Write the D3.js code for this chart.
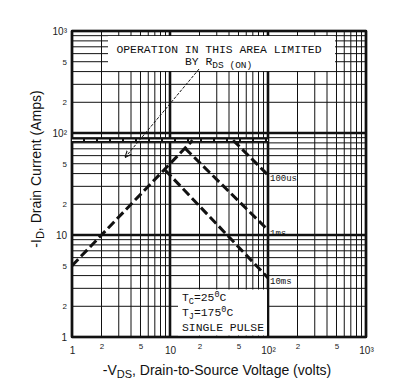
<!DOCTYPE html>
<html lang="en">
<head>
<meta charset="UTF-8">
<title>Safe Operating Area</title>
<script src="https://cdn.jsdelivr.net/npm/d3@7"></script>
<style>
    body { margin: 0; background: #fff; }
    svg { display: block; }
    .mono { font-family: "Liberation Mono", "DejaVu Sans Mono", monospace; fill: #111; }
    .sans { font-family: "Liberation Sans", Arial, sans-serif; fill: #111; }
</style>
</head>
<body>
<svg id="chart" width="415" height="391"></svg>
<script>
    // tick values and their printed labels (same on both axes)
    const tickValues = [1, 2, 5, 10, 20, 50, 100, 200, 500, 1000];
    const tickLabels = ["1", "2", "5", "10", "2", "5", "10\u00b2", "2", "5", "10\u00b3"];

    // boundary lines, volts / amps
    const rdsLimitV = [1, 17];
    const rdsLimitI = [5, 85];
    const currentLimitV = [1, 100];
    const currentLimitI = [85, 85];
    const pulse100usV = [44, 100];
    const pulse100usI = [85, 38.7];
    const pulse1msV = [14.2, 100];
    const pulse1msI = [71, 11.2];
    const pulse10msV = [8.9, 100];
    const pulse10msI = [43.4, 3.8];
    const pulseLabels = ["100us", "1ms", "10ms"];

    // arrow from the note to the Rds line
    const arrowV = [19.8, 3.5];
    const arrowI = [424, 58];

    const svg = d3.select("#chart");
    const x = d3.scaleLog().domain([1, 1000]).range([72, 366]);
    const y = d3.scaleLog().domain([1, 1000]).range([337, 31]);

    // log grid
    let grid = [];
    [1, 10, 100].forEach(d => {
        for (let k = 1; k < 10; k++) grid.push(k * d);
    });
    grid.push(1000);

    const isDecade = v => Math.abs(Math.log10(v) - Math.round(Math.log10(v))) < 1e-9;

    svg.append("g").selectAll("line").data(grid).enter().append("line")
        .attr("x1", d => x(d)).attr("x2", d => x(d))
        .attr("y1", y(1)).attr("y2", y(1000))
        .attr("stroke", "#111")
        .attr("stroke-width", d => isDecade(d) ? 2.6 : 1);

    svg.append("g").selectAll("line").data(grid).enter().append("line")
        .attr("y1", d => y(d)).attr("y2", d => y(d))
        .attr("x1", x(1)).attr("x2", x(1000))
        .attr("stroke", "#111")
        .attr("stroke-width", d => isDecade(d) ? 2.6 : 1);

    // white areas behind the notes
    svg.append("rect").attr("x", 108).attr("y", 36).attr("width", 227).attr("height", 35).attr("fill", "#fff");
    svg.append("rect").attr("x", 178).attr("y", 289.5).attr("width", 89).attr("height", 46).attr("fill", "#fff");

    // frame
    svg.append("rect")
        .attr("x", x(1)).attr("y", y(1000))
        .attr("width", x(1000) - x(1)).attr("height", y(1) - y(1000))
        .attr("fill", "none").attr("stroke", "#111").attr("stroke-width", 2.2);

    const line = d3.line().x(d => x(d[0])).y(d => y(d[1]));
    const pts = (vs, is) => vs.map((v, i) => [v, is[i]]);

    // current limit: heavy line with white dashes inside
    svg.append("path").datum(pts(currentLimitV, currentLimitI))
        .attr("d", line).attr("fill", "none")
        .attr("stroke", "#111").attr("stroke-width", 5);
    svg.append("path").datum(pts(currentLimitV, currentLimitI))
        .attr("d", line).attr("fill", "none")
        .attr("stroke", "#fff").attr("stroke-width", 1.6)
        .attr("stroke-dasharray", "11,2");

    const dashed = [
        pts(rdsLimitV, rdsLimitI),
        pts(pulse100usV, pulse100usI),
        pts(pulse1msV, pulse1msI),
        pts(pulse10msV, pulse10msI)
    ];
    svg.append("g").selectAll("path").data(dashed).enter().append("path")
        .attr("d", line).attr("fill", "none")
        .attr("stroke", "#111").attr("stroke-width", 3)
        .attr("stroke-dasharray", "9,4");

    // pulse labels at the 100 V ends
    const ends = [pulse100usI[1], pulse1msI[1], pulse10msI[1]];
    svg.append("g").selectAll("text").data(ends).enter().append("text")
        .attr("class", "mono")
        .attr("x", x(100) + 2).attr("y", d => y(d) + 6)
        .attr("font-size", 9)
        .text((d, i) => pulseLabels[i]);

    // arrow
    svg.append("defs").append("marker")
        .attr("id", "head").attr("viewBox", "0 0 10 10")
        .attr("refX", 9).attr("refY", 5)
        .attr("markerWidth", 7).attr("markerHeight", 7)
        .attr("orient", "auto")
        .append("path").attr("d", "M0,1 L10,5 L0,9").attr("fill", "none")
        .attr("stroke", "#111").attr("stroke-width", 1.5);
    svg.append("path").datum(pts(arrowV, arrowI))
        .attr("d", line).attr("fill", "none")
        .attr("stroke", "#111").attr("stroke-width", 1)
        .attr("stroke-dasharray", "3,1.5")
        .attr("marker-end", "url(#head)");

    // top note
    svg.append("text").attr("class", "mono").attr("font-size", 11.4)
        .attr("x", 219).attr("y", 53).attr("text-anchor", "middle")
        .text("OPERATION IN THIS AREA LIMITED");
    const by = svg.append("text").attr("class", "mono").attr("font-size", 11.4)
        .attr("x", 185).attr("y", 65);
    by.append("tspan").text("BY R");
    by.append("tspan").attr("font-size", 9.5).attr("dy", 3).text("DS (ON)");

    // conditions note
    const note = svg.append("g").attr("class", "mono").attr("font-size", 11.4);
    const t1 = note.append("text").attr("x", 182).attr("y", 301);
    t1.append("tspan").text("T");
    t1.append("tspan").attr("font-size", 8.5).attr("dy", 3).text("C");
    t1.append("tspan").attr("dy", -3).text("=25");
    t1.append("tspan").attr("font-size", 8.5).attr("dy", -4).text("0");
    t1.append("tspan").attr("dy", 4).text("C");
    const t2 = note.append("text").attr("x", 182).attr("y", 316);
    t2.append("tspan").text("T");
    t2.append("tspan").attr("font-size", 8.5).attr("dy", 3).text("J");
    t2.append("tspan").attr("dy", -3).text("=175");
    t2.append("tspan").attr("font-size", 8.5).attr("dy", -4).text("0");
    t2.append("tspan").attr("dy", 4).text("C");
    note.append("text").attr("x", 182).attr("y", 331).text("SINGLE PULSE");

    // axes
    const fmt = (d, i) => tickLabels[tickValues.indexOf(d)];
    const yAxis = svg.append("g").attr("transform", `translate(${x(1) - 5},0)`)
        .call(d3.axisLeft(y).tickValues(tickValues).tickFormat(fmt).tickSize(0).tickPadding(0));
    const xAxis = svg.append("g").attr("transform", `translate(0,${y(1) + 10})`)
        .call(d3.axisBottom(x).tickValues(tickValues).tickFormat(fmt).tickSize(0).tickPadding(0));
    [yAxis, xAxis].forEach(a => {
        a.select(".domain").remove();
        a.selectAll("text")
            .attr("font-family", "Liberation Sans, Arial, sans-serif")
            .attr("fill", "#222")
            .attr("font-size", d => isDecade(d) ? 10 : 8);
    });
    xAxis.selectAll("text").attr("dy", d => isDecade(d) ? "0.71em" : "0.3em");

    // axis titles
    const xt = svg.append("text").attr("class", "sans").attr("font-size", 14)
        .attr("x", 217).attr("y", 375).attr("text-anchor", "middle");
    xt.append("tspan").text("-V");
    xt.append("tspan").attr("font-size", 11).attr("dy", 3).text("DS");
    xt.append("tspan").attr("dy", -3).text(", Drain-to-Source Voltage (volts)");

    const yt = svg.append("text").attr("class", "sans").attr("font-size", 14)
        .attr("transform", "translate(41,169) rotate(-90)").attr("text-anchor", "middle");
    yt.append("tspan").text("-I");
    yt.append("tspan").attr("font-size", 11).attr("dy", 3).text("D");
    yt.append("tspan").attr("dy", -3).text(", Drain Current (Amps)");
</script>
</body>
</html>
